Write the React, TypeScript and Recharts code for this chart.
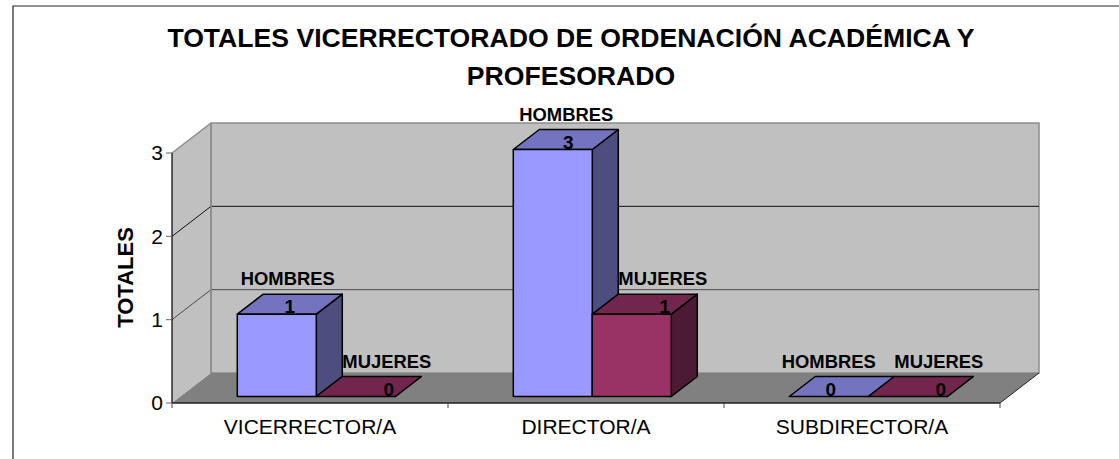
import { Bar, BarChart, LabelList, XAxis, YAxis } from "recharts";

const categories = ["VICERRECTOR/A", "DIRECTOR/A", "SUBDIRECTOR/A"];
const hombres = [1, 3, 0];
const mujeres = [0, 1, 0];
const yTicks = [0, 1, 2, 3];
const titleLines = [
  "TOTALES VICERRECTORADO DE ORDENACIÓN ACADÉMICA Y",
  "PROFESORADO",
];

const data = categories.map((name, i) => ({
  name,
  HOMBRES: hombres[i],
  MUJERES: mujeres[i],
}));

const FONT = '"Liberation Sans", Arial, sans-serif';
const WIDTH = 1119;
const HEIGHT = 459;
const LEFT = 172;
const RIGHT = 1000;
const TOP = 153;
const BOTTOM = 403;

// 3D look: wall depth, bar depth, and how far bars sit behind the front plane
const WALL_DX = 39;
const WALL_DY = -30;
const BAR_DX = 26;
const BAR_DY = -20;
const BAR_SHIFT = 6.5;
// bars sit deeper in the box so they read slightly shorter than the front axis
const BAR_SCALE = 0.988;

// hand placed labels in the original, dx from the front face centre per category
const hombresNudge = [11, 13.5, 0];
const mujeresNudge = [31, 31, 31];

const tickY = (v: number) => BOTTOM - ((BOTTOM - TOP) * v) / 3;

function Walls() {
  return (
    <g>
      <polygon
        points={`${LEFT},${TOP} ${LEFT + WALL_DX},${TOP + WALL_DY} ${LEFT + WALL_DX},${BOTTOM + WALL_DY} ${LEFT},${BOTTOM}`}
        fill="#C0C0C0"
      />
      <rect
        x={LEFT + WALL_DX}
        y={TOP + WALL_DY}
        width={RIGHT - LEFT}
        height={BOTTOM - TOP}
        fill="#C0C0C0"
        stroke="#8C8C8C"
        strokeWidth={1.5}
      />
      <line x1={LEFT} y1={TOP} x2={LEFT + WALL_DX} y2={TOP + WALL_DY} stroke="#8C8C8C" strokeWidth={1.5} />
      {yTicks.slice(1, 3).map((v) => (
        <polyline
          key={v}
          points={`${LEFT},${tickY(v)} ${LEFT + WALL_DX},${tickY(v) + WALL_DY} ${RIGHT + WALL_DX},${tickY(v) + WALL_DY}`}
          fill="none"
          stroke={v === 1 ? "#4A4A4A" : "#111"}
          strokeWidth={1}
        />
      ))}
      <polygon
        points={`${LEFT},${BOTTOM} ${LEFT + WALL_DX},${BOTTOM + WALL_DY} ${RIGHT + WALL_DX},${BOTTOM + WALL_DY} ${RIGHT},${BOTTOM}`}
        fill="#808080"
      />
      <line x1={RIGHT} y1={BOTTOM} x2={RIGHT + WALL_DX} y2={BOTTOM + WALL_DY} stroke="#222" strokeWidth={1} />
      <line x1={LEFT + WALL_DX} y1={TOP + WALL_DY} x2={LEFT + WALL_DX} y2={BOTTOM + WALL_DY} stroke="#8C8C8C" strokeWidth={1.5} />
      <polyline points={`13,459 13,6 ${WIDTH},6`} fill="none" stroke="#222" strokeWidth={1.2} />
      {titleLines.map((line, i) => (
        <text
          key={line}
          x={571}
          y={47 + i * 38}
          textAnchor="middle"
          fontFamily={FONT}
          fontWeight={700}
          fontSize={26.6}
          fill="#000"
        >
          {line}
        </text>
      ))}
      <text
        transform="translate(133,277.5) rotate(-90)"
        textAnchor="middle"
        fontFamily={FONT}
        fontWeight={700}
        fontSize={22}
        fill="#000"
      >
        TOTALES
      </text>
      <line x1={LEFT} y1={BOTTOM} x2={RIGHT} y2={BOTTOM} stroke="#222" strokeWidth={1.5} />
      {/* x axis tick marks fall on the category boundaries */}
      {categories.concat("").map((c, i) => {
        const x = LEFT + ((RIGHT - LEFT) * i) / categories.length;
        return <line key={i} x1={x} y1={BOTTOM} x2={x} y2={BOTTOM + 5} stroke="#444" strokeWidth={1} />;
      })}
    </g>
  );
}

function makeBox(front: string, top: string, side: string) {
  return function Box(props: any) {
    const h = props.height * BAR_SCALE;
    const x = props.x + BAR_SHIFT;
    const y = props.y + props.height - h - BAR_SHIFT;
    const w = props.width;
    return (
      <g stroke="#000" strokeWidth={1.5} strokeLinejoin="round">
        <polygon
          points={`${x + w},${y} ${x + w + BAR_DX},${y + BAR_DY} ${x + w + BAR_DX},${y + h + BAR_DY} ${x + w},${y + h}`}
          fill={side}
        />
        <polygon
          points={`${x},${y} ${x + BAR_DX},${y + BAR_DY} ${x + w + BAR_DX},${y + BAR_DY} ${x + w},${y}`}
          fill={top}
        />
        <rect x={x} y={y} width={w} height={h} fill={front} />
      </g>
    );
  };
}

function makeLabel(series: string, nudge: number[]) {
  return function BarLabel(props: any) {
    const { x, y, width, height, value, index } = props;
    const cx = x + width / 2 + BAR_SHIFT + nudge[index];
    const top = y + height - height * BAR_SCALE - BAR_SHIFT;
    const common = {
      fontFamily: FONT,
      fontWeight: 700,
      fill: "#000",
      textAnchor: "middle" as const,
    };
    return (
      <g>
        <text x={cx} y={top - 29} fontSize={18.4} {...common}>
          {series}
        </text>
        <text x={cx + 2} y={top - 1} fontSize={19} {...common}>
          {value}
        </text>
      </g>
    );
  };
}

export default function App() {
  return (
    <div style={{ position: "absolute", left: 0, top: 0 }}>
      <BarChart
        width={WIDTH}
        height={HEIGHT}
        data={data}
        barCategoryGap="21.3%"
        barGap={0}
        margin={{ top: TOP, right: WIDTH - RIGHT, bottom: HEIGHT - BOTTOM - 40, left: LEFT - 50 }}
      >
        <Walls />
        <XAxis
          dataKey="name"
          height={40}
          interval={0}
          axisLine={false}
          tickLine={false}
          tickMargin={10}
          tick={{ fontSize: 21, fontFamily: FONT, fill: "#000" }}
        />
        <YAxis
          width={50}
          type="number"
          domain={[0, 3]}
          ticks={yTicks}
          interval={0}
          axisLine={{ stroke: "#000", strokeWidth: 1.2 }}
          tickLine={{ stroke: "#666" }}
          tickSize={6}
          tickMargin={3}
          tick={{ fontSize: 21, fontFamily: FONT, fill: "#000" }}
        />
        <Bar
          dataKey="HOMBRES"
          isAnimationActive={false}
          shape={makeBox("#9999FF", "#7373BF", "#4D4D80")}
        >
          <LabelList dataKey="HOMBRES" content={makeLabel("HOMBRES", hombresNudge)} />
        </Bar>
        <Bar
          dataKey="MUJERES"
          isAnimationActive={false}
          shape={makeBox("#993366", "#73264D", "#4D1A33")}
        >
          <LabelList dataKey="MUJERES" content={makeLabel("MUJERES", mujeresNudge)} />
        </Bar>
      </BarChart>
    </div>
  );
}
